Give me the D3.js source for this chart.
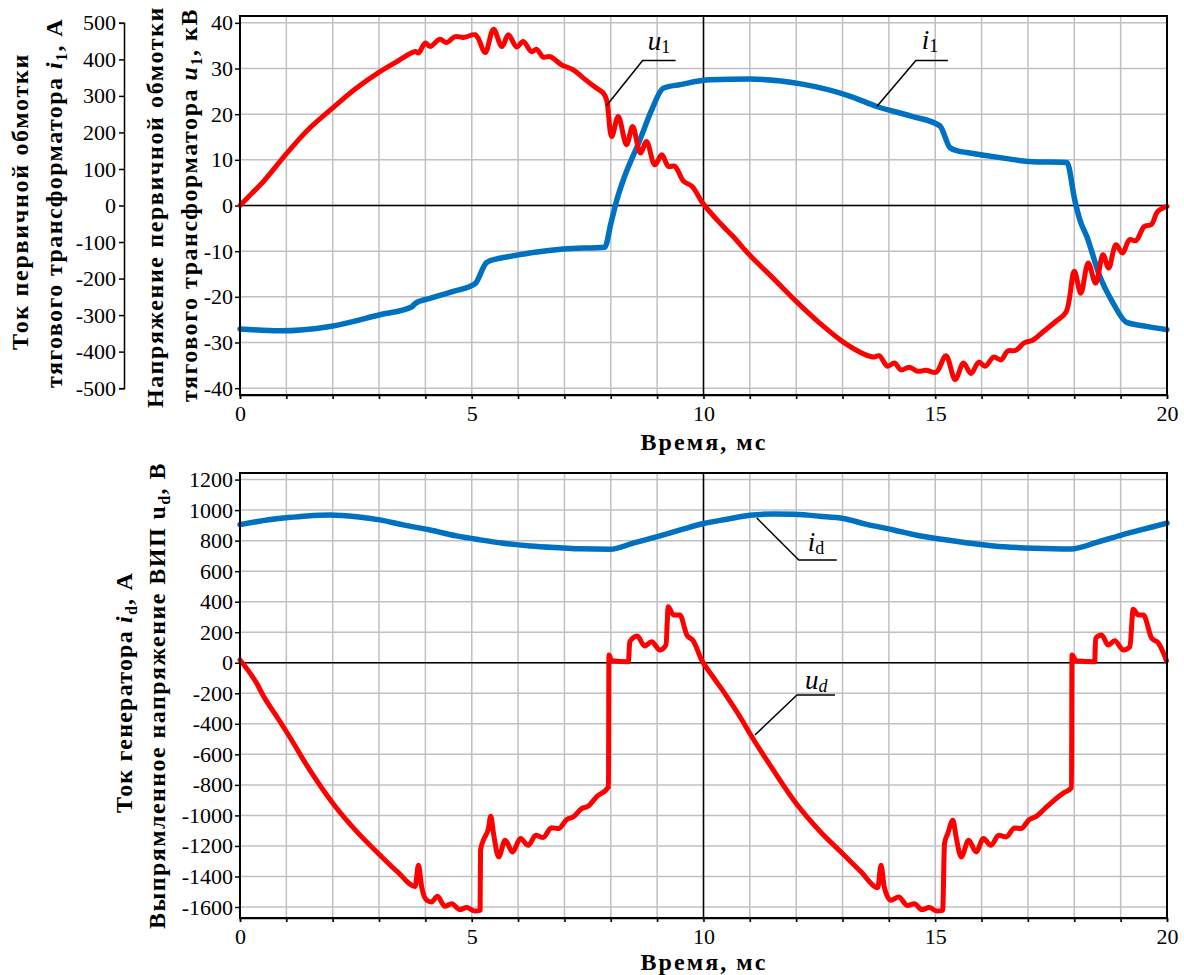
<!DOCTYPE html>
<html lang="ru">
<head>
<meta charset="utf-8">
<title>Напряжение и ток тягового трансформатора</title>
<script src="https://d3js.org/d3.v7.min.js"></script>
<style>
body { margin: 0; background: #fff; }
text { font-family: "Liberation Serif", "Times New Roman", serif; }
</style>
</head>
<body>
<div id="chart"></div>
<script>
// ---- data (time in ms) ----
var timeTicks = d3.range(0, 21);
var timeLabels = [0, 5, 10, 15, 20];
var u1Ticks = [-40, -30, -20, -10, 0, 10, 20, 30, 40];
var i1Ticks = [-500, -400, -300, -200, -100, 0, 100, 200, 300, 400, 500];
var udTicks = [-1600, -1400, -1200, -1000, -800, -600, -400, -200, 0, 200, 400, 600, 800, 1000, 1200];

// primary winding voltage u1, kV
var u1Data = [[0,0],[0.25,2.6],[0.5,5.2],[1.04,11.8],[1.5,16.9],[2.04,21.7],[2.5,25.6],[3.02,29.3],[3.4,31.6],
  [3.78,33.7],[3.85,33.4],[4.0,35.6],[4.1,34.8],[4.31,36.4],[4.46,35.7],[4.64,37],[4.82,36.8],[5.07,37.4],
  [5.14,36.6],[5.29,33.5],[5.47,38.6],[5.65,34.8],[5.79,37.4],[5.97,34.7],[6.11,35.9],[6.29,33.7],[6.4,34.2],
  [6.54,32.5],[6.69,32.6],[6.94,30.8],[7.19,29.7],[7.41,27.9],[7.62,26.2],[7.84,24.6],[7.91,23.1],[8.02,15.1],
  [8.16,19.5],[8.34,13.3],[8.47,17.3],[8.64,11.5],[8.77,14.0],[8.95,8.9],[9.1,11.1],[9.24,8.6],[9.38,8.6],
  [9.57,5.3],[9.75,4.2],[10.0,0.3],[10.36,-3.9],[10.64,-6.8],[10.99,-10.8],[11.5,-15.9],[12.0,-21],
  [12.5,-25.7],[13.0,-29.8],[13.5,-32.7],[13.68,-33.2],[13.79,-32.9],[13.97,-35.2],[14.12,-34.5],[14.26,-36],
  [14.44,-35.4],[14.62,-36.3],[14.8,-36.1],[15.02,-36.5],[15.23,-32.9],[15.43,-38.1],[15.61,-34.5],
  [15.77,-36.8],[15.94,-34.3],[16.08,-35.2],[16.26,-33.2],[16.42,-33.8],[16.56,-31.9],[16.74,-31.7],
  [16.92,-30.1],[17.1,-29.5],[17.31,-27.8],[17.6,-25.4],[17.82,-23.4],[18.0,-14.4],[18.14,-19.2],[18.3,-12.6],
  [18.46,-17],[18.62,-10.8],[18.74,-13.7],[18.9,-8.6],[19.04,-10.4],[19.19,-7.5],[19.33,-7.7],[19.51,-4.6],
  [19.66,-4.2],[19.8,-1.3],[20,-0.2]];

// primary winding current i1, A
var i1Data = [[0,-338],[0.86,-343],[1.94,-331],[3.02,-299],[3.7,-278],[3.78,-268],[4.1,-254],[4.6,-235],
  [5.07,-214],[5.32,-156],[5.54,-146],[5.75,-141],[6.25,-130],[6.97,-119],[7.87,-114],[8.0,-50],[8.13,15],
  [8.27,70],[8.63,180],[8.88,261],[9.13,321],[9.5,331],[10.14,344],[11.0,346],[12.1,333],[13.17,299],
  [13.74,271],[14.5,244],[15.1,218],[15.32,158],[15.5,149],[15.68,145],[16.4,131],[17.1,120],[17.84,118],
  [18.01,15],[18.12,-39],[18.27,-85],[18.55,-194],[18.84,-268],[19.13,-320],[19.56,-331],[20,-340]];

// generator current id, A
var idData = [[0,905],[0.5,931],[1.04,951],[1.44,962],[1.94,968],[2.52,957],[3.02,936],[3.52,903],[4.1,870],
  [4.67,831],[5.18,805],[5.68,783],[6.26,765],[6.97,752],[7.34,746],[7.98,743],[8.5,785],[9.0,826],[9.5,870],
  [10.0,912],[10.5,940],[11.0,966],[11.5,975],[11.94,972],[12.5,960],[13.02,945],[13.5,908],[14.1,870],
  [14.6,835],[15.18,807],[15.7,785],[16.26,765],[17.13,750],[17.92,745],[18.5,790],[19.0,835],[19.5,875],[20,915]];

// rectified voltage ud, V
var udData = [[0,18],[0.36,-135],[0.5,-215],[0.83,-370],[1.04,-470],[1.5,-700],[2.04,-935],[2.5,-1100],
  [3.02,-1260],[3.4,-1370],[3.78,-1465],[3.85,-1327],[3.92,-1469],[4.03,-1556],[4.13,-1567],[4.26,-1530],
  [4.42,-1595],[4.57,-1578],[4.74,-1617],[4.89,-1604],[5.07,-1626],[5.18,-1622],[5.19,-1228],[5.25,-1163],
  [5.36,-1086],[5.41,-1005],[5.47,-1119],[5.58,-1272],[5.72,-1163],[5.88,-1239],[6.05,-1152],[6.22,-1196],
  [6.38,-1130],[6.54,-1145],[6.72,-1080],[6.87,-1086],[7.05,-1027],[7.19,-1010],[7.37,-955],[7.51,-940],
  [7.69,-879],[7.95,-813],[7.96,50],[8.02,13],[8.38,7],[8.41,138],[8.57,175],[8.73,110],[8.88,138],
  [9.06,83],[9.19,116],[9.24,367],[9.35,313],[9.49,313],[9.64,182],[9.78,144],[9.96,18],[10.2,-90],
  [10.49,-215],[10.81,-365],[11.0,-463],[11.5,-700],[12.0,-922],[12.5,-1100],[13.0,-1250],[13.4,-1370],
  [13.76,-1473],[13.83,-1327],[13.9,-1469],[14.04,-1556],[14.21,-1535],[14.4,-1590],[14.55,-1578],
  [14.71,-1617],[14.87,-1604],[15.03,-1626],[15.16,-1622],[15.2,-1184],[15.27,-1119],[15.38,-1031],
  [15.45,-1141],[15.56,-1272],[15.72,-1163],[15.88,-1239],[16.04,-1152],[16.2,-1196],[16.37,-1130],
  [16.53,-1141],[16.71,-1082],[16.85,-1086],[17.03,-1027],[17.18,-1006],[17.39,-948],[17.57,-900],
  [17.75,-857],[17.94,-817],[17.95,50],[18.04,13],[18.44,7],[18.46,160],[18.59,182],[18.73,116],
  [18.87,144],[19.06,83],[19.2,105],[19.27,350],[19.38,313],[19.49,313],[19.67,160],[19.81,131],[19.99,13]];

var RED = "#ff0000", BLUE = "#0070c0", GRID = "#c0c0c0";

var svg = d3.select("#chart").append("svg")
  .attr("width", 1184)
  .attr("height", 975);

// scales
var x = d3.scaleLinear().domain([0, 20]).range([240, 1167]);
var yU = d3.scaleLinear().domain([-41.5, 41.5]).range([395, 16]);
var yI = d3.scaleLinear().domain([-500, 500]).range([yU(-40), yU(40)]);
var yB = d3.scaleLinear().domain([-1672, 1243]).range([918, 473]);

function fmt(d) { return String(d); }

function styleAxis(g, size) {
  g.attr("font-family", null).attr("font-size", null);
  g.selectAll("text").style("font-size", size + "px").attr("fill", "#000");
  g.selectAll("line").attr("stroke", "#000").attr("stroke-width", 1.5);
  g.selectAll("path").attr("stroke", "#000").attr("stroke-width", 1.5);
}

// one panel: grid, zero lines, axes
function panel(y, ticks) {
  var top = y.range()[1], bottom = y.range()[0];
  var g = svg.append("g");
  g.selectAll(".vg").data(timeTicks.slice(1, 20)).enter().append("line")
    .attr("x1", function (d) { return x(d); }).attr("x2", function (d) { return x(d); })
    .attr("y1", top).attr("y2", bottom + 4)
    .attr("stroke", GRID).attr("stroke-width", 1.5);
  g.selectAll(".hg").data(ticks).enter().append("line")
    .attr("x1", x(0)).attr("x2", x(20))
    .attr("y1", function (d) { return y(d); }).attr("y2", function (d) { return y(d); })
    .attr("stroke", GRID).attr("stroke-width", 1.5);
  g.append("line").attr("x1", x(0)).attr("x2", x(20)).attr("y1", y(0)).attr("y2", y(0))
    .attr("stroke", "#000").attr("stroke-width", 1.5);
  g.append("line").attr("x1", x(10)).attr("x2", x(10)).attr("y1", top).attr("y2", bottom)
    .attr("stroke", "#000").attr("stroke-width", 1.5);

  var xa = svg.append("g").attr("transform", "translate(0," + bottom + ")")
    .call(d3.axisBottom(x).tickValues(timeTicks).tickSize(4).tickPadding(6)
      .tickFormat(function (d) { return timeLabels.indexOf(d) >= 0 ? d : ""; }));
  styleAxis(xa, 22);

  var ya = svg.append("g").attr("transform", "translate(" + x(0) + ",0)")
    .call(d3.axisLeft(y).tickValues(ticks).tickSize(5).tickPadding(2).tickSizeOuter(0).tickFormat(fmt));
  styleAxis(ya, 22);
  ya.select(".domain").remove();
}

function frame(y) {
  var top = y.range()[1], bottom = y.range()[0];
  svg.append("rect").attr("x", x(0)).attr("y", top)
    .attr("width", x(20) - x(0)).attr("height", bottom - top)
    .attr("fill", "none").attr("stroke", "#000").attr("stroke-width", 2);
}

function series(data, y, color, curve, width) {
  svg.append("path").datum(data)
    .attr("fill", "none").attr("stroke", color).attr("stroke-width", width)
    .attr("stroke-linejoin", "round").attr("stroke-linecap", "round")
    .attr("d", d3.line().curve(curve)
      .x(function (d) { return x(d[0]); })
      .y(function (d) { return y(d[1]); }));
}

// top panel
panel(yU, u1Ticks);
var ia = svg.append("g").attr("transform", "translate(124,0)")
  .call(d3.axisLeft(yI).tickValues(i1Ticks).tickSize(5).tickPadding(3).tickSizeOuter(5).tickFormat(fmt));
styleAxis(ia, 22);
series(i1Data, yI, BLUE, d3.curveMonotoneX, 5.5);
series(u1Data, yU, RED, d3.curveCatmullRom.alpha(0.5), 5);
frame(yU);

// bottom panel
panel(yB, udTicks);
series(idData, yB, BLUE, d3.curveMonotoneX, 5.5);
series(udData, yB, RED, d3.curveMonotoneX, 5);
frame(yB);

// leader labels
function leader(px, py, dx, dy, len, main, sub, subItalic, ldx, ldy) {
  var ex = px + dx, ey = py + dy;
  svg.append("path")
    .attr("d", "M" + px + "," + py + "L" + ex + "," + ey + "L" + (ex + len) + "," + ey)
    .attr("fill", "none").attr("stroke", "#000").attr("stroke-width", 1.5);
  var t = svg.append("text").attr("x", ex + ldx).attr("y", ey + ldy).style("font-size", "27px");
  t.append("tspan").style("font-style", "italic").text(main);
  t.append("tspan").attr("dy", 3).style("font-size", "18px")
    .style("font-style", subItalic ? "italic" : "normal").text(sub);
}
leader(x(7.91), yU(21.9), 36, -45, 33, "u", "1", false, 5, -10);
leader(x(13.74), yI(271), 39, -46, 32, "i", "1", false, 6, -12);
leader(x(11.15), yB(948), 42, 42, 38, "i", "d", false, 9, -9);
leader(x(11.11), yB(-473), 42, -40, 38, "u", "d", true, 8, -6);

// axis titles: bold, stretched to the reference length, centred by measuring
function fitLength(t, target) {
  var n = t.text().length;
  var sp = 0;
  for (var k = 0; k < 3; k++) {
    var w = t.node().getBBox().width;
    sp += (target - w) / (n - 1);
    t.style("letter-spacing", sp + "px");
  }
  var bb = t.node().getBBox();
  t.attr("x", -(bb.x + bb.width / 2));
}
function vtitle(bx, cy, target, parts) {
  var t = svg.append("text")
    .attr("transform", "translate(" + bx + "," + cy + ") rotate(-90)")
    .attr("x", 0).attr("y", 0)
    .style("font-size", "24px").style("font-weight", "bold");
  parts.forEach(function (p) {
    var s = t.append("tspan").text(p.t);
    if (p.it) s.style("font-style", "italic");
    if (p.sub) s.attr("dy", 5).style("font-size", "16px");
    if (p.up) s.attr("dy", -5);
  });
  fitLength(t, target);
}
vtitle(28, 201.5, 297, [{t: "Ток первичной обмотки"}]);
vtitle(62, 203, 370, [{t: "тягового трансформатора "}, {t: "i", it: true}, {t: "1", sub: true}, {t: ", А", up: true}]);
vtitle(163, 207, 402, [{t: "Напряжение первичной обмотки"}]);
vtitle(197, 205, 394, [{t: "тягового трансформатора "}, {t: "u", it: true}, {t: "1", sub: true}, {t: ", кВ", up: true}]);
vtitle(132, 692.5, 241, [{t: "Ток генератора "}, {t: "i", it: true}, {t: "d", sub: true}, {t: ", А", up: true}]);
vtitle(165, 695.5, 467, [{t: "Выпрямленное напряжение ВИП u"}, {t: "d", sub: true}, {t: ", В", up: true}]);

function xtitle(by) {
  var t = svg.append("text")
    .attr("transform", "translate(704," + by + ")")
    .style("font-size", "24px").style("font-weight", "bold")
    .text("Время, мс");
  fitLength(t, 127);
}
xtitle(450);
xtitle(970);
</script>
</body>
</html>
